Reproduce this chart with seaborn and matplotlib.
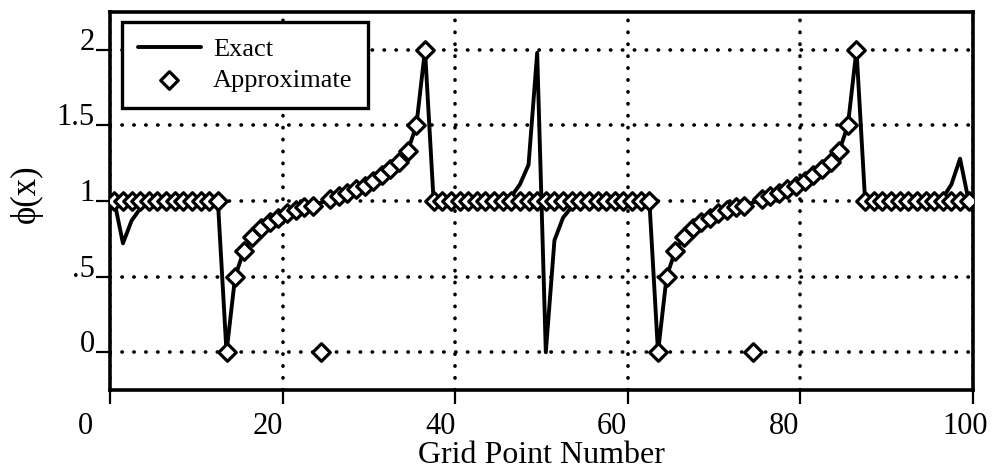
import matplotlib
matplotlib.use("Agg")
import matplotlib.pyplot as plt
from matplotlib.transforms import ScaledTranslation
import pandas as pd
import seaborn as sns

# Grid point numbers 1..100 (values are cell-centred, plotted at n - 0.5)
grid_points = list(range(1, 101))

# Exact solution phi(x) at each grid point
exact_phi = [
    1.00, 0.72, 0.87, 0.95, 1.00, 1.00, 1.00, 1.00, 1.00, 1.00,
    1.00, 1.00, 1.00, 0.00, 0.50, 0.67, 0.76, 0.82, 0.86, 0.89,
    0.92, 0.94, 0.96, 0.97, 0.99, 1.01, 1.03, 1.05, 1.08, 1.10,
    1.13, 1.17, 1.21, 1.26, 1.33, 1.50, 2.00, 1.00, 1.00, 1.00,
    1.00, 1.00, 1.00, 1.00, 1.00, 1.00, 1.03, 1.11, 1.24, 1.98,
    0.00, 0.74, 0.89, 0.96, 1.00, 1.00, 1.00, 1.00, 1.00, 1.00,
    1.00, 1.00, 1.00, 0.00, 0.50, 0.67, 0.76, 0.82, 0.86, 0.89,
    0.92, 0.94, 0.96, 0.97, 0.99, 1.01, 1.03, 1.05, 1.08, 1.10,
    1.13, 1.17, 1.21, 1.26, 1.33, 1.50, 2.00, 1.00, 1.00, 1.00,
    1.00, 1.00, 1.00, 1.00, 1.00, 1.00, 1.02, 1.11, 1.28, 1.00,
]

# Approximate (numerical) solution at each grid point
approx_phi = [
    1.00, 1.00, 1.00, 1.00, 1.00, 1.00, 1.00, 1.00, 1.00, 1.00,
    1.00, 1.00, 1.00, 0.00, 0.50, 0.67, 0.76, 0.82, 0.86, 0.89,
    0.92, 0.94, 0.96, 0.97, 0.00, 1.01, 1.03, 1.05, 1.08, 1.10,
    1.13, 1.17, 1.21, 1.26, 1.33, 1.50, 2.00, 1.00, 1.00, 1.00,
    1.00, 1.00, 1.00, 1.00, 1.00, 1.00, 1.00, 1.00, 1.00, 1.00,
    1.00, 1.00, 1.00, 1.00, 1.00, 1.00, 1.00, 1.00, 1.00, 1.00,
    1.00, 1.00, 1.00, 0.00, 0.50, 0.67, 0.76, 0.82, 0.86, 0.89,
    0.92, 0.94, 0.96, 0.97, 0.00, 1.01, 1.03, 1.05, 1.08, 1.10,
    1.13, 1.17, 1.21, 1.26, 1.33, 1.50, 2.00, 1.00, 1.00, 1.00,
    1.00, 1.00, 1.00, 1.00, 1.00, 1.00, 1.00, 1.00, 1.00, 1.00,
]

x_ticks = [0, 20, 40, 60, 80, 100]
x_tick_labels = ["0", "20", "40", "60", "80", "100"]
y_ticks = [0, 0.5, 1, 1.5, 2]
y_tick_labels = ["0", ".5", "1", "1.5", "2"]

df = pd.DataFrame({"point": grid_points, "exact": exact_phi, "approx": approx_phi})
df["pos"] = df["point"] - 0.5

sns.set_theme(style="ticks")
plt.rcParams["font.family"] = ["Liberation Serif", "DejaVu Serif"]
plt.rcParams["lines.dash_capstyle"] = "round"
plt.rcParams["axes.edgecolor"] = "black"
plt.rcParams["xtick.color"] = "black"
plt.rcParams["ytick.color"] = "black"
plt.rcParams["text.color"] = "black"
plt.rcParams["axes.labelcolor"] = "black"

DPI = 100
fig = plt.figure(figsize=(9.93, 4.73), dpi=DPI)
ax = fig.add_axes([110 / 993, 1 - 390 / 473, 863 / 993, 378 / 473])

sns.lineplot(data=df, x="pos", y="exact", color="black", linewidth=2.8,
             errorbar=None, label="Exact", ax=ax, zorder=2)
sns.scatterplot(data=df, x="pos", y="approx", marker="D", s=80,
                color="white", edgecolor="black", linewidth=2.3,
                label="Approximate", ax=ax, zorder=3)

ax.set_xlim(0, 100)
ax.set_ylim(-0.25, 2.25)
ax.set_xticks(x_ticks, x_tick_labels)
ax.set_yticks(y_ticks, y_tick_labels)

ax.grid(True, color="black", linestyle=(0, (0.1, 3.2)), linewidth=2.6)

ax.tick_params(axis="both", direction="out", length=10, width=1.6,
               labelsize=22, colors="black")
ax.tick_params(axis="x", pad=6)
ax.tick_params(axis="y", pad=1)

for lab in ax.get_yticklabels():
    lab.set_va("baseline")

# nudge x tick labels slightly left of their ticks
x_label_shift_px = [-25, -15, -15, -16, -16, -8]
for lab, dx in zip(ax.get_xticklabels(), x_label_shift_px):
    lab.set_transform(lab.get_transform()
                      + ScaledTranslation(dx / DPI, 0, fig.dpi_scale_trans))

for sp in ax.spines.values():
    sp.set_linewidth(2.6)
    sp.set_color("black")

ax.set_xlabel("Grid Point Number", fontsize=23)
ax.xaxis.set_label_coords(0.5, -0.134)
ax.set_ylabel("\u03d5(x)", fontsize=25)
ax.yaxis.set_label_coords(-0.078, 0.52)

leg = ax.legend(loc="upper left", bbox_to_anchor=(0.0139, 0.9735),
                borderaxespad=0, fontsize=19, frameon=True, fancybox=False,
                edgecolor="black", framealpha=1, handlelength=2.4,
                handletextpad=0.45, borderpad=0.6, labelspacing=0.28,
                scatterpoints=1)
leg.get_frame().set_linewidth(2.4)

fig.savefig("out.png", dpi=DPI)
